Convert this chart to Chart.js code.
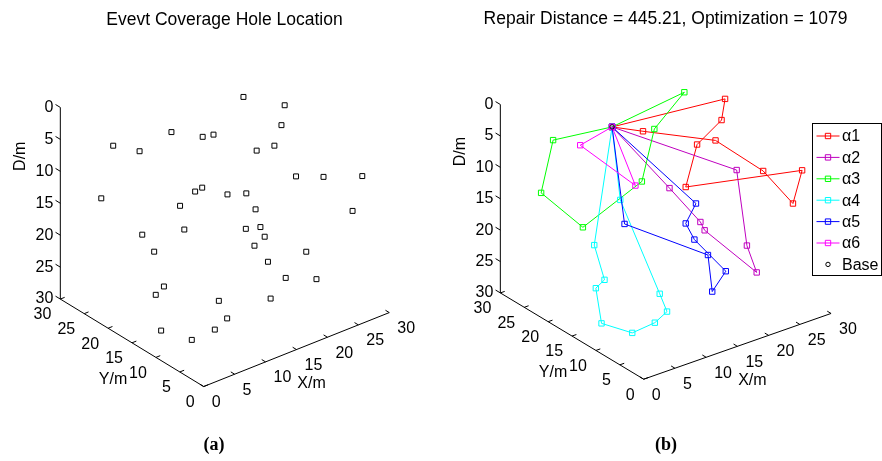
<!DOCTYPE html>
<html>
<head>
<meta charset="utf-8">
<script src="https://cdn.jsdelivr.net/npm/chart.js@4.4.0/dist/chart.umd.min.js"></script>
<style>
  html, body { margin: 0; padding: 0; background: #fff; }
  #wrap { display: flex; width: 882px; height: 461px; }
  .panel { width: 441px; height: 461px; }
</style>
</head>
<body>
<div id="wrap">
  <div class="panel"><canvas id="chart-a" width="441" height="461"></canvas></div>
  <div class="panel"><canvas id="chart-b" width="441" height="461"></canvas></div>
</div>
<script>
// tick values shared by the three axes (X/m, Y/m, D/m)
const axisTicks = [0, 5, 10, 15, 20, 25, 30];

const holeX = [6.0, 8.1, 10.7, 13.2, 14.1, 5.0, 11.4, 12.6, 13.2, 15.2, 20.1, 22.9, 19.6, 17.6, 19.0, 20.8, 23.0, 26.1, 16.7, 17.5,
               25.3, 16.7, 17.9, 11.7, 18.2, 17.4, 21.6, 18.5, 19.9, 22.4, 18.7, 14.5, 12.6, 9.6, 8.3, 9.3, 10.1, 9.4, 4.4, 5.8];
const holeY = [26.7, 23.9, 20.6, 17.3, 16.2, 27.9, 19.7, 18.1, 17.4, 14.7, 17.7, 12.7, 9.1, 11.7, 9.8, 7.6, 4.7, 0.6, 12.7, 11.8,
               1.6, 12.8, 11.3, 19.2, 10.8, 11.9, 6.5, 10.5, 8.6, 5.4, 10.2, 15.6, 11.4, 10.1, 23.6, 22.4, 21.4, 22.2, 14.6, 10.0];
const holeD = [6.8, 7.2, 3.7, 3.9, 3.4, 15.2, 15.1, 12.6, 11.9, 12.5, 0.5, 0.6, 0.8, 5.2, 4.1, 8.6, 8.2, 7.4, 12.0, 14.4,
               13.0, 17.6, 17.1, 18.7, 18.5, 20.1, 20.2, 22.4, 24.6, 24.3, 28.1, 29.3, 29.4, 29.4, 20.2, 22.7, 28.0, 29.4, 29.6, 29.5];

// (b) repair routes, each leaves the base and comes back to it: [X, Y, D]
const basePos = [10.7, 20.6, 3.0];
const route1 = [[13.2, 17.4, 3.1], [19.0, 9.8, 3.1], [22.8, 4.8, 7.0], [25.2, 1.7, 11.6], [25.9, 0.7, 6.1],
                [16.6, 12.9, 11.1], [17.5, 11.7, 4.1], [20.5, 10.5, 0.7], [24.2, 14.6, 0.5]];
const route2 = [[15.3, 14.6, 11.6], [17.8, 11.4, 16.4], [18.1, 10.9, 17.6], [22.3, 5.5, 23.3], [21.5, 6.5, 19.2], [20.7, 7.6, 7.4]];
const route3 = [[6.0, 26.8, 6.3], [5.0, 28.0, 14.9], [8.4, 23.7, 19.6], [13.1, 17.5, 11.1], [14.1, 16.2, 2.5], [21.2, 19.2, 0.5]];
const route4 = [[9.3, 22.5, 22.2], [10.1, 21.4, 27.5], [9.4, 22.3, 29.0], [4.8, 15.1, 29.7], [6.2, 10.5, 29.6],
                [10.2, 11.0, 29.6], [13.3, 12.5, 29.6], [14.5, 15.6, 28.6], [11.4, 19.8, 14.5]];
const route5 = [[17.4, 11.8, 13.5], [16.6, 12.9, 16.9], [17.3, 12.0, 19.3], [19.8, 8.7, 23.7], [18.7, 10.1, 27.2],
                [18.4, 10.6, 21.5], [11.7, 19.3, 18.2]];
const route6 = [[8.2, 24.0, 6.6], [12.6, 18.2, 11.9]];
const routeNames = ["α1", "α2", "α3", "α4", "α5", "α6"];

const routeColors = ["#ff0000", "#bf00bf", "#00ff00", "#00ffff", "#0000ff", "#ff00ff"];
const FONT = '"Liberation Sans", Arial, sans-serif';

// view of the box: screen offset per unit of X, Y and D (matlab-like az/el)
const viewA = { ox: 203.3, oy: 390, xv: [6.33, -2.52], yv: [-4.89, -2.98], dv: 6.53 };
const viewB = { ox: 202.3, oy: 382.5, xv: [6.39, -2.24], yv: [-4.89, -2.94], dv: 6.42 };

function project(v, p) {
  return {
    x: v.ox + v.xv[0] * p[0] + v.yv[0] * p[1],
    y: v.oy + v.xv[1] * p[0] + v.yv[1] * p[1] - v.dv * (30 - p[2]),
  };
}

const axes3d = {
  id: "axes3d",
  beforeDatasetsDraw(chart, args, o) {
    const ctx = chart.ctx;
    const px = (p) => {
      const q = project(o.view, p);
      return [chart.scales.x.getPixelForValue(q.x), chart.scales.y.getPixelForValue(q.y)];
    };
    const seg = (a, b) => {
      ctx.beginPath();
      ctx.moveTo(a[0], a[1]);
      ctx.lineTo(b[0], b[1]);
      ctx.stroke();
    };
    const text = (s, x, y, align) => {
      ctx.textAlign = align;
      ctx.fillText(s, x, y);
    };
    ctx.save();
    ctx.strokeStyle = "#000";
    ctx.fillStyle = "#000";
    ctx.lineWidth = 1;
    seg(px([0, 0, 30]), px([30, 0, 30]));
    seg(px([0, 0, 30]), px([0, 30, 30]));
    seg(px([0, 30, 0]), px([0, 30, 30]));

    ctx.font = "16px " + FONT;
    ctx.textBaseline = "middle";
    axisTicks.forEach((t) => {
      let a = px([t, 0, 30]);
      seg(a, px([t, 0.8, 30]));
      text(String(t), a[0] + 8, a[1] + 16, "left");
      a = px([0, t, 30]);
      seg(a, px([0.7, t, 30]));
      text(String(t), a[0] - 9, a[1] + 16, "right");
      a = px([0, 30, t]);
      seg(a, px([0, 31, t]));
      text(String(t), a[0] - 7, a[1], "right");
    });

    let a = px([15, 0, 30]);
    text("X/m", a[0] + 15, a[1] + 34, "center");
    a = px([0, 15, 30]);
    text("Y/m", a[0] - 19, a[1] + 37, "center");
    a = px([0, 30, 15]);
    ctx.save();
    ctx.translate(a[0] - 40, a[1] - 47);
    ctx.rotate(-Math.PI / 2);
    text("D/m", 0, 0, "center");
    ctx.restore();
    ctx.restore();
  },
  afterDraw(chart, args, o) {
    const ctx = chart.ctx;
    ctx.save();
    ctx.fillStyle = "#000";
    ctx.textAlign = "center";
    ctx.textBaseline = "alphabetic";
    ctx.font = "17.5px " + FONT;
    ctx.fillText(o.title, 224.5, o.titleY);
    ctx.font = 'bold 18px "Liberation Serif", "DejaVu Serif", serif';
    ctx.textBaseline = "middle";
    ctx.fillText(o.caption, o.captionX, 445);

    if (o.legend) {
      const L = { left: 371.5, top: 123.5, right: 440.5, bottom: 275.5 };
      ctx.fillStyle = "#fff";
      ctx.fillRect(L.left, L.top, L.right - L.left, L.bottom - L.top);
      ctx.strokeStyle = "#000";
      ctx.lineWidth = 1;
      ctx.strokeRect(L.left, L.top, L.right - L.left, L.bottom - L.top);
      ctx.font = "16px " + FONT;
      ctx.textAlign = "left";
      const items = chart.data.datasets.slice().sort((p, q) => p.legendIndex - q.legendIndex);
      items.forEach((ds, i) => {
        const y = 136 + i * 21.4;
        ctx.strokeStyle = ds.borderColor;
        if (ds.showLine) {
          ctx.beginPath();
          ctx.moveTo(375.5, y);
          ctx.lineTo(398.5, y);
          ctx.stroke();
        }
        ctx.fillStyle = "rgba(0,0,0,0)";
        Chart.helpers.drawPoint(ctx, { pointStyle: ds.pointStyle, radius: ds.pointRadius, borderWidth: 1 }, 387, y);
        ctx.fillStyle = "#000";
        ctx.fillText(ds.label, 401, y + 1);
      });
    }
    ctx.restore();
  },
};

function options(extra) {
  return {
    responsive: false,
    animation: false,
    events: [],
    layout: { padding: 0 },
    scales: {
      x: { type: "linear", display: false, min: 0, max: 441 },
      y: { type: "linear", display: false, min: 0, max: 461, reverse: true },
    },
    plugins: { legend: { display: false }, tooltip: { enabled: false }, axes3d: extra },
  };
}

const holes = holeX.map((x, i) => project(viewA, [x, holeY[i], holeD[i]]));

new Chart(document.getElementById("chart-a"), {
  type: "scatter",
  data: {
    datasets: [
      {
        label: "holes",
        data: holes,
        pointStyle: "rect",
        pointRadius: 3.5,
        borderColor: "#000",
        backgroundColor: "rgba(0,0,0,0)",
        borderWidth: 1,
      },
    ],
  },
  options: options({ view: viewA, title: "Evevt Coverage Hole Location", titleY: 25, caption: "(a)", captionX: 214 }),
  plugins: [axes3d],
});

const routes = [route1, route2, route3, route4, route5, route6];
const routeSets = routes.map((r, i) => ({
  label: routeNames[i],
  legendIndex: i,
  order: 6 - i,
  data: [basePos, ...r, basePos].map((p) => project(viewB, p)),
  showLine: true,
  tension: 0,
  borderColor: routeColors[i],
  borderWidth: 1,
  backgroundColor: "rgba(0,0,0,0)",
  pointStyle: "rect",
  pointRadius: 3.8,
  pointBorderColor: routeColors[i],
  pointBackgroundColor: "rgba(0,0,0,0)",
  pointBorderWidth: 1,
}));
routeSets.push({
  label: "Base",
  legendIndex: 6,
  order: -1,
  data: [project(viewB, basePos)],
  showLine: false,
  borderColor: "#000",
  backgroundColor: "rgba(0,0,0,0)",
  pointStyle: "circle",
  pointRadius: 2.2,
  pointBorderWidth: 1,
});

new Chart(document.getElementById("chart-b"), {
  type: "scatter",
  data: { datasets: routeSets },
  options: options({
    view: viewB,
    title: "Repair Distance = 445.21, Optimization = 1079",
    titleY: 24,
    caption: "(b)",
    captionX: 225,
    legend: true,
  }),
  plugins: [axes3d],
});
</script>
</body>
</html>
